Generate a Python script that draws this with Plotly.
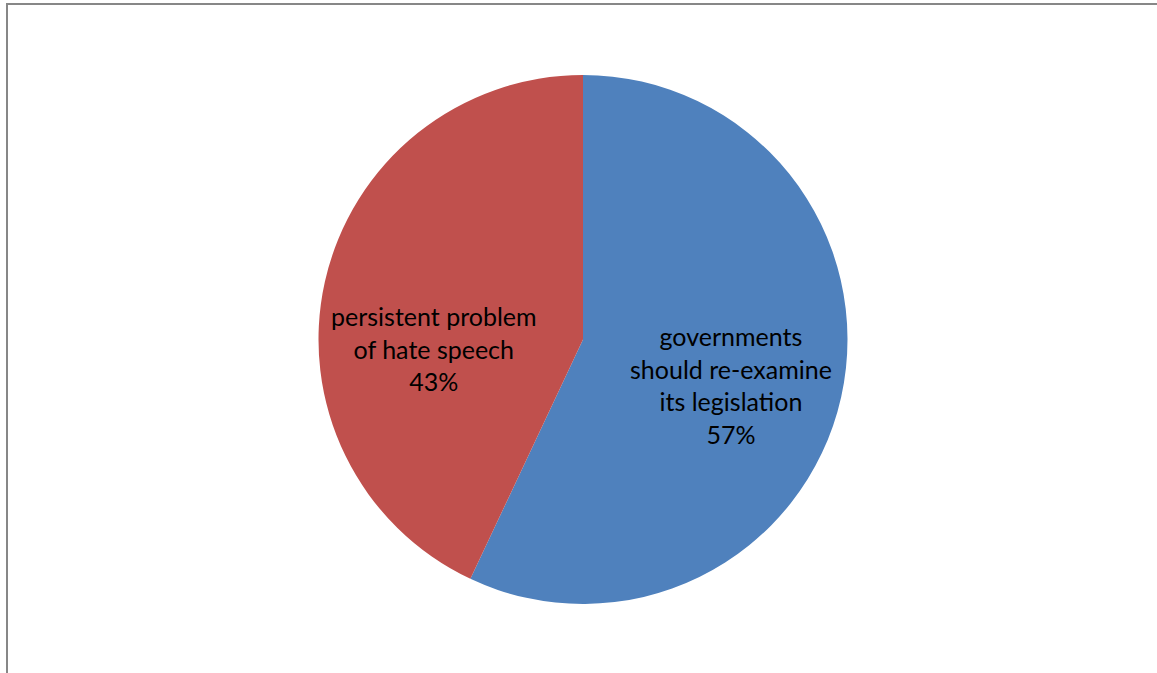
import plotly.graph_objects as go

labels = ["governments<br>should re-examine<br>its legislation", "persistent problem<br>of hate speech"]
values = [57, 43]
colors = ["#4F81BD", "#C0504D"]
# label anchor positions (pixels in the 1157x673 page), as placed in the original chart
label_px = [(731, 385), (434, 348)]

W, H = 1157, 673

fig = go.Figure(go.Pie(
    labels=labels,
    values=values,
    marker=dict(colors=colors, line=dict(width=0)),
    sort=False,
    direction="clockwise",
    rotation=0,
    textinfo="none",
    hoverinfo="label+value",
    showlegend=False,
    domain=dict(x=[318 / W, 848 / W], y=[(H - 604) / H, (H - 75) / H]),
))

for lab, val, (px, py) in zip(labels, values, label_px):
    fig.add_annotation(
        x=px / W, y=1 - py / H, xref="paper", yref="paper",
        text=f"{lab}<br>{val}%", showarrow=False,
        xanchor="center", yanchor="middle", align="center",
        font=dict(family="Lato, 'Open Sans', sans-serif", size=25, color="#000000"),
    )

fig.add_shape(type="rect", xref="paper", yref="paper",
              x0=7 / W, x1=1.05, y0=-0.05, y1=1 - 4 / H,
              line=dict(color="#878787", width=2), fillcolor="rgba(0,0,0,0)", layer="above")

fig.update_layout(
    width=W, height=H,
    margin=dict(l=0, r=0, t=0, b=0),
    paper_bgcolor="white",
    plot_bgcolor="white",
)

fig.write_html("out.html")
